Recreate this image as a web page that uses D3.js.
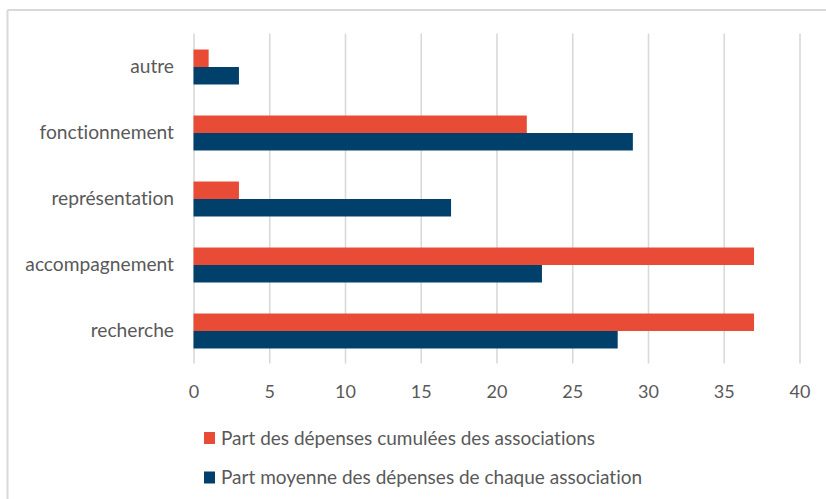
<!DOCTYPE html>
<html>
<head>
<meta charset="utf-8">
<script src="https://cdn.jsdelivr.net/npm/d3@7"></script>
<style>
  html, body { margin: 0; padding: 0; background: #ffffff; }
  svg { display: block; }
  text { font-family: Lato, "Open Sans", sans-serif; fill: #595959; font-variant-ligatures: none; }
</style>
</head>
<body>
<svg id="chart" width="826" height="499"></svg>
<script>
const categories = ["autre", "fonctionnement", "représentation", "accompagnement", "recherche"];
const seriesNames = ["Part des dépenses cumulées des associations", "Part moyenne des dépenses de chaque association"];
const seriesCumulees = [1, 22, 3, 37, 37];
const seriesMoyenne = [3, 29, 17, 23, 28];
const xTicks = [0, 5, 10, 15, 20, 25, 30, 35, 40];
const colors = ["#E84C36", "#00406A"];

const svg = d3.select("#chart");
const W = 826, H = 499;

// chart frame (top and left edges visible)
svg.append("line").attr("x1", 7.5).attr("x2", W).attr("y1", 10).attr("y2", 10)
  .attr("stroke", "#d9d9d9").attr("stroke-width", 2);
svg.append("line").attr("x1", 7.5).attr("x2", 7.5).attr("y1", 10).attr("y2", H)
  .attr("stroke", "#d9d9d9").attr("stroke-width", 2);

const x = d3.scaleLinear().domain([0, 40]).range([193.5, 799.5]);
const y = d3.scaleBand().domain(categories).range([34, 364]).paddingInner(0.47).paddingOuter(0.235);
const ySub = d3.scaleBand().domain([0, 1]).range([0, y.bandwidth()]);

// gridlines
const gridAxis = d3.axisBottom(x).tickValues(xTicks).tickSize(-(363.5 - 33.5)).tickFormat("");
const grid = svg.append("g").attr("transform", "translate(0,363.5)").call(gridAxis);
grid.select(".domain").remove();
grid.selectAll("line").attr("stroke", "#d9d9d9").attr("stroke-width", 1.6);

// tick labels
const xAxis = d3.axisBottom(x).tickValues(xTicks).tickSize(0).tickPadding(0);
const xa = svg.append("g").attr("transform", "translate(0,398)").call(xAxis);
xa.select(".domain").remove();
xa.selectAll("text").attr("font-size", "18px").attr("fill", "#595959")
  .attr("dy", "0").attr("font-family", "Lato, 'Open Sans', sans-serif");

// category labels
const yAxis = d3.axisLeft(y).tickSize(0).tickPadding(0);
const ya = svg.append("g").attr("transform", "translate(174,0)").call(yAxis);
ya.select(".domain").remove();
ya.selectAll("text").attr("font-size", "19.2px").attr("fill", "#595959")
  .attr("font-family", "Lato, 'Open Sans', sans-serif");

// bars
const data = [seriesCumulees, seriesMoyenne];
data.forEach((vals, si) => {
  svg.append("g").selectAll("rect").data(categories).join("rect")
    .attr("x", x(0))
    .attr("y", c => y(c) + ySub(si))
    .attr("width", (c, i) => x(vals[i]) - x(0))
    .attr("height", ySub.bandwidth())
    .attr("fill", colors[si]);
});

// legend
const legendY = [438, 477.5];
seriesNames.forEach((name, i) => {
  const g = svg.append("g").attr("transform", `translate(204,${legendY[i]})`);
  g.append("rect").attr("x", 0).attr("y", -6).attr("width", 11).attr("height", 12).attr("fill", colors[i]);
  g.append("text").attr("x", 17).attr("y", 0).attr("dy", "0.35em")
    .attr("font-size", "19px").text(name);
});
</script>
</body>
</html>
